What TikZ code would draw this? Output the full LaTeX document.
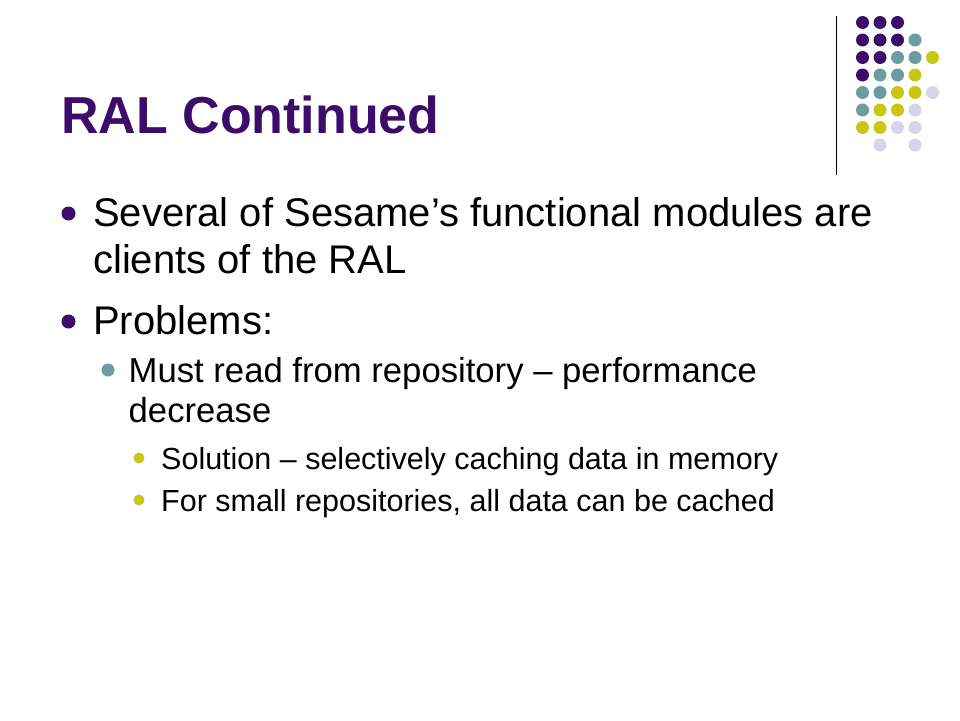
\documentclass[tikz,border=0pt]{standalone}
\usepackage{fontspec}
\setmainfont{Liberation Sans}
\usepackage{tikz}

\definecolor{titlepurple}{HTML}{3C0C6A}
\definecolor{dotpurple}{HTML}{3C0C6A}
\definecolor{dotteal}{HTML}{6B9C9F}
\definecolor{dotyellow}{HTML}{C8C814}
\definecolor{dotlilac}{HTML}{D5D5EA}

\begin{document}
\begin{tikzpicture}[x=1pt, y=-1pt]
		\useasboundingbox (0, 0) rectangle (960, 720);
		\fill[white] (0, 0) rectangle (960, 720);
		%标题
		\node[anchor=base west, inner sep=0pt, text=titlepurple, font=\fontsize{52}{60}\selectfont\bfseries] (title) at (61, 133) {RAL Continued};
		%右上角圆点
		\draw[line width=1.2pt] (836.5, 16)--(836.5, 175);
		\foreach \rowcols [count=\r from 0] in {
			{dotpurple,dotpurple,dotpurple,none,none},
			{dotpurple,dotpurple,dotpurple,dotteal,none},
			{dotpurple,dotpurple,dotteal,dotteal,dotyellow},
			{dotpurple,dotteal,dotteal,dotyellow,none},
			{dotteal,dotteal,dotyellow,dotyellow,dotlilac},
			{dotteal,dotyellow,dotyellow,dotlilac,none},
			{dotyellow,dotyellow,dotlilac,dotlilac,none},
			{none,dotlilac,none,dotlilac,none}}
		{
			\foreach \c [count=\k from 0] in \rowcols
				\path[fill=\c] (862.5+17.5*\k, 22.5+17.5*\r) circle (6.5);
		}
		%一级
		\fill[dotpurple] (68.5, 213.5) circle (7);
		\fill[dotpurple] (68.5, 321.5) circle (7);
		\node[anchor=base west, inner sep=0pt, font=\fontsize{40}{48}\selectfont] (several) at (93, 226) {Several of Sesame’s functional modules are};
		\node[anchor=base west, inner sep=0pt, font=\fontsize{40}{48}\selectfont] (clients) at (93, 273) {clients of the RAL};
		\node[anchor=base west, inner sep=0pt, font=\fontsize{40}{48}\selectfont] (problems) at (93, 334) {Problems:};
		%二级
		\fill[dotteal] (108, 370) circle (6.5);
		\node[anchor=base west, inner sep=0pt, font=\fontsize{34.67}{40}\selectfont] (mustread) at (128.5, 382) {Must read from repository – performance};
		\node[anchor=base west, inner sep=0pt, font=\fontsize{34.67}{40}\selectfont] (decrease) at (128.5, 422) {decrease};
		%三级
		\fill[dotyellow] (139, 458) circle (5.5);
		\fill[dotyellow] (139, 500) circle (5.5);
		\node[anchor=base west, inner sep=0pt, font=\fontsize{30.5}{36}\selectfont] (solution) at (161, 469) {Solution – selectively caching data in memory};
		\node[anchor=base west, inner sep=0pt, font=\fontsize{30.5}{36}\selectfont] (smallrepo) at (161, 511) {For small repositories, all data can be cached};
	\end{tikzpicture}
\end{document}
